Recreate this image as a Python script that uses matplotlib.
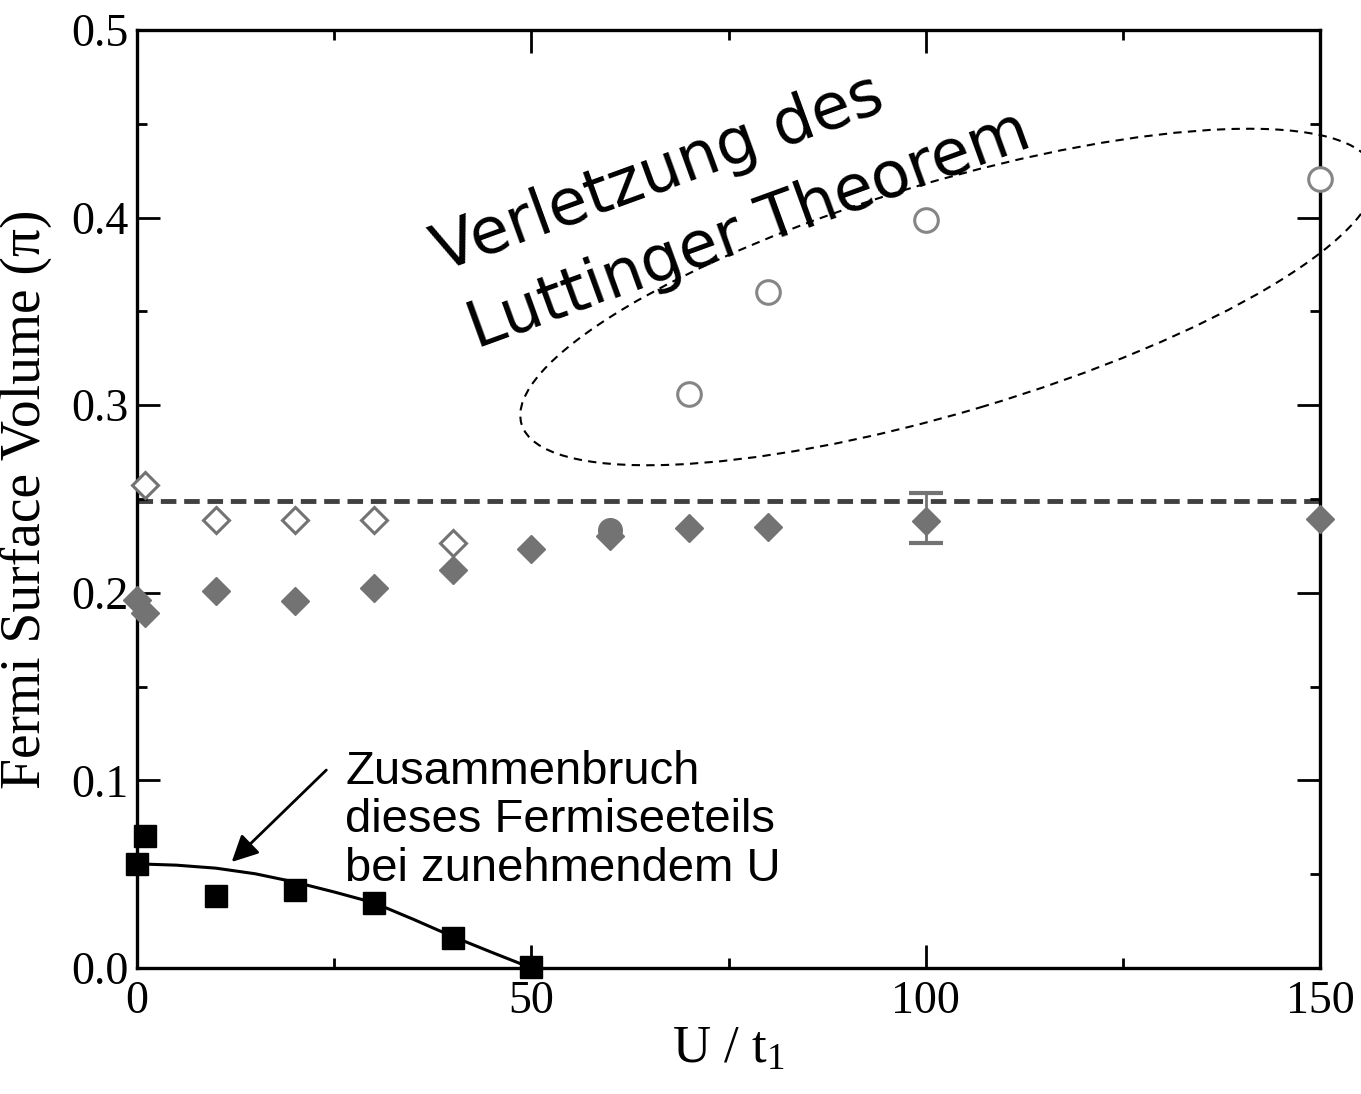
import numpy as np
import matplotlib
matplotlib.use("Agg")
import matplotlib.pyplot as plt
from matplotlib.patches import Ellipse

plt.rcParams['font.family'] = ['Liberation Serif', 'DejaVu Serif']
plt.rcParams['mathtext.default'] = 'regular'

# --- data ---
# black squares (collapsing Fermi sea part) and the guide line through them
sq_x = [0, 1, 10, 20, 30, 40, 50]
sq_y = [0.0554, 0.0706, 0.0384, 0.0413, 0.0348, 0.0160, 0.0003]
fit_x = [0, 5, 10, 15, 20, 25, 30, 35, 40, 45, 50]
fit_y = [0.0555, 0.0548, 0.0532, 0.0502, 0.0458, 0.0405, 0.0348, 0.0260, 0.0168, 0.0083, 0.0]

# open grey diamonds
od_x = [1, 10, 20, 30, 40]
od_y = [0.2575, 0.2388, 0.2388, 0.2388, 0.2265]

# filled grey diamonds
fd_x = [0, 1, 10, 20, 30, 40, 50, 60, 70, 80, 100, 150]
fd_y = [0.1960, 0.1890, 0.2010, 0.1956, 0.2026, 0.2122, 0.2234, 0.2305, 0.2345, 0.2350, 0.2383, 0.2393]

# filled grey circles
fc_x = [60]
fc_y = [0.2335]

# open grey circles
oc_x = [70, 80, 100, 150]
oc_y = [0.3060, 0.3603, 0.3987, 0.4205]

# error bar at U=100
err_x = [100]
err_y = [0.2383]
err_lo = [0.0118]
err_hi = [0.0149]

luttinger = 0.249

fig = plt.figure(figsize=(13.61, 10.94), dpi=100)
ax = fig.add_axes([0.1007, 0.1152, 0.8692, 0.8574])

grey = '#737373'

ax.axhline(luttinger, color='#404040', lw=3.5, ls=(0, (3.2, 1.6)), zorder=1)

ax.errorbar(err_x, err_y, yerr=[err_lo, err_hi], fmt='none', ecolor=grey,
            elinewidth=2, capsize=12, capthick=3, zorder=2)

ax.plot(fit_x, fit_y, color='black', lw=2.2, zorder=2)
ax.plot(sq_x, sq_y, 's', color='black', ms=16.5, ls='none', clip_on=False, zorder=4)

ax.plot(od_x, od_y, 'D', mfc='white', mec=grey, mew=2.2, ms=13.5, ls='none',
        clip_on=False, zorder=3)
ax.plot(fc_x, fc_y, 'o', color=grey, ms=17, ls='none', clip_on=False, zorder=3)
ax.plot(fd_x, fd_y, 'D', color=grey, ms=14, ls='none', clip_on=False, zorder=3)
ax.plot(oc_x, oc_y, 'o', mfc='white', mec='#858585', mew=2.2, ms=17, ls='none',
        clip_on=False, zorder=3)

ax.set_xlim(0, 150)
ax.set_ylim(0, 0.5)
ax.set_xticks([0, 50, 100, 150])
ax.set_xticks([25, 75, 125], minor=True)
ax.set_yticks([0.0, 0.1, 0.2, 0.3, 0.4, 0.5])
ax.set_yticks(np.arange(0.05, 0.5, 0.1), minor=True)
ax.set_yticklabels(['0.0', '0.1', '0.2', '0.3', '0.4', '0.5'])

for s in ax.spines.values():
    s.set_linewidth(2.4)
ax.tick_params(which='both', direction='in', top=True, right=True, width=2, labelsize=33)
ax.tick_params(which='major', length=16.5)
ax.tick_params(which='minor', length=7.5)
ax.tick_params(axis='y', pad=6)
ax.tick_params(axis='x', pad=9)

ax.set_xlabel(r'U / t$_1$', fontsize=38, labelpad=2)
ax.set_ylabel('Fermi Surface Volume (\u03c0)', fontsize=40, labelpad=14)

# annotations
ell = Ellipse((9.48, 7.97), 8.9, 2.3, angle=16.6, transform=fig.dpi_scale_trans,
              fill=False, ec='black', lw=1.5, ls=(0, (4, 3)), clip_on=False)
fig.patches.append(ell)

ax.text(38.6, 0.371, 'Verletzung des', rotation=20, rotation_mode='anchor',
        ha='left', va='baseline', fontsize=46, family='DejaVu Sans')
ax.text(43.0, 0.330, 'Luttinger Theorem', rotation=20, rotation_mode='anchor',
        ha='left', va='baseline', fontsize=46, family='DejaVu Sans')

ax.text(26.4, 0.116, 'Zusammenbruch\ndieses Fermiseeteils\nbei zunehmendem U',
        ha='left', va='top', fontsize=34, family='Liberation Sans', linespacing=1.12,
        zorder=5)
ax.annotate('', xy=(12.0, 0.0565), xytext=(24.0, 0.1055),
            arrowprops=dict(arrowstyle='-|>', color='black', lw=2,
                            mutation_scale=40, shrinkA=0, shrinkB=0))

fig.savefig('out.png', dpi=100)
